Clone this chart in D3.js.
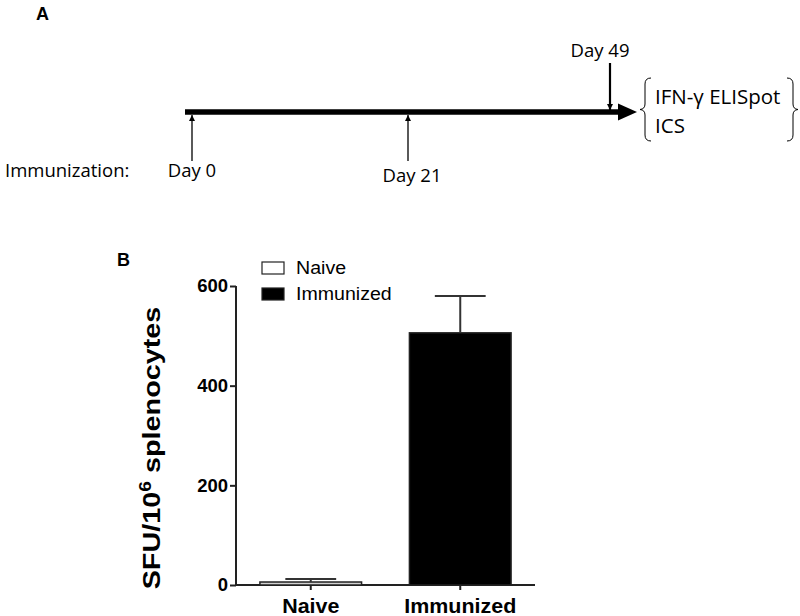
<!DOCTYPE html>
<head>
    <script type="text/javascript" src="https://d3js.org/d3.v7.min.js"></script>
    <style>
        body { margin: 0; background: #fff; }
        .sch text { font-family: "Open Sans", sans-serif; font-size: 18.5px; fill: #000; }
        .bar text { font-family: "Liberation Sans", Arial, sans-serif; fill: #000; }
        .panel { font-family: "Liberation Sans", Arial, sans-serif; font-weight: bold; font-size: 18px; }
    </style>
</head>
<body>
<svg class="chart" width="800" height="616"></svg>

<script>
    // panel A - schedule
    var days = [0, 21, 49];
    var dayLabels = ["Day 0", "Day 21", "Day 49"];
    var readouts = ["IFN-\u03b3 ELISpot", "ICS"];

    // panel B - ELISpot
    var groups = ["Naive", "Immunized"];
    var means = [6, 506];
    var errs = [6, 74];
    var fills = ["#d0d0d0", "#000"];
    var yTicks = [0, 200, 400, 600];

    var svg = d3.select(".chart");

    svg.append("defs").append("marker")
        .attr("id", "head")
        .attr("viewBox", "0 0 10 10")
        .attr("refX", 10).attr("refY", 5)
        .attr("markerWidth", 6).attr("markerHeight", 7)
        .attr("markerUnits", "userSpaceOnUse")
        .attr("orient", "auto")
        .append("path").attr("d", "M0,0L10,5L0,10z");

    svg.append("text").attr("class", "panel").attr("x", 36).attr("y", 20).text("A");
    svg.append("text").attr("class", "panel").attr("x", 117).attr("y", 266).text("B");

    var sch = svg.append("g").attr("class", "sch");
    var xd = d3.scaleLinear().domain(days).range([192, 408, 610]);
    var lineY = 112;
    var labelDx = [0, 4, -10];

    sch.append("line")
        .attr("x1", 185).attr("x2", 620)
        .attr("y1", lineY).attr("y2", lineY)
        .attr("stroke", "#000").attr("stroke-width", 5.5);
    sch.append("path")
        .attr("d", "M618," + (lineY - 8.5) + "L637," + lineY + "L618," + (lineY + 8.5) + "z")
        .attr("fill", "#000");

    // injections, arrow up
    days.slice(0, 2).forEach(function(d, i) {
        sch.append("line")
            .attr("x1", xd(d)).attr("x2", xd(d))
            .attr("y1", 161).attr("y2", 115)
            .attr("stroke", "#000").attr("stroke-width", 1.3)
            .attr("marker-end", "url(#head)");
        sch.append("text")
            .attr("x", xd(d) + labelDx[i]).attr("y", i == 0 ? 177 : 182)
            .attr("text-anchor", "middle")
            .text(dayLabels[i]);
    });

    // readout day, arrow down
    sch.append("line")
        .attr("x1", xd(49)).attr("x2", xd(49))
        .attr("y1", 63).attr("y2", 110)
        .attr("stroke", "#000").attr("stroke-width", 2.2)
        .attr("marker-end", "url(#head)");
    sch.append("text")
        .attr("x", xd(49) + labelDx[2]).attr("y", 57)
        .attr("text-anchor", "middle")
        .text(dayLabels[2]);

    sch.append("text").attr("x", 5).attr("y", 177).text("Immunization:");

    // braces
    sch.append("path")
        .attr("d", "M651,78 Q645,78 645,84 L645,104 Q645,109 640,109.5 Q645,110 645,115 L645,135 Q645,141 651,141")
        .attr("fill", "none").attr("stroke", "#000").attr("stroke-width", 1);
    sch.append("path")
        .attr("d", "M787,78 Q793,78 793,84 L793,104 Q793,109 798,109.5 Q793,110 793,115 L793,135 Q793,141 787,141")
        .attr("fill", "none").attr("stroke", "#000").attr("stroke-width", 1);
    sch.selectAll(".ro").data(readouts).enter().append("text")
        .attr("x", 655)
        .attr("y", function(d, i) { return 104 + i * 29; })
        .style("font-size", "20.5px")
        .text(function(d) { return d; });

    // bar chart
    var bar = svg.append("g").attr("class", "bar");
    var y = d3.scaleLinear().domain([0, 600]).range([585, 286]);
    var x = d3.scaleBand().domain(groups).range([236, 535]).paddingInner(0.32).paddingOuter(0.16);

    var yAxis = bar.append("g")
        .attr("transform", "translate(236,0)")
        .call(d3.axisLeft(y).tickValues(yTicks).tickSize(6).tickPadding(2));
    var xAxis = bar.append("g")
        .attr("transform", "translate(0,585)")
        .call(d3.axisBottom(x).tickSize(5).tickPadding(5));

    [yAxis, xAxis].forEach(function(ax) {
        ax.select(".domain").attr("stroke", "#222").attr("stroke-width", 2);
        ax.selectAll(".tick line").attr("stroke", "#222").attr("stroke-width", 2);
        ax.selectAll("text").attr("font-family", "Liberation Sans, Arial, sans-serif")
            .attr("font-weight", "bold").attr("fill", "#000");
    });
    yAxis.select(".domain").attr("d", "M0," + y(600) + "V" + y(0));
    xAxis.select(".domain").attr("d", "M236,0H535");
    yAxis.selectAll("text").attr("font-size", 18.5);
    xAxis.selectAll("text").attr("font-size", 19.5).attr("dy", "0.9em")
        .attr("transform", "scale(1.1,1)");

    bar.selectAll(".b").data(groups).enter().append("rect")
        .attr("x", function(d) { return x(d); })
        .attr("width", x.bandwidth())
        .attr("y", function(d, i) { return y(means[i]); })
        .attr("height", function(d, i) { return y(0) - y(means[i]); })
        .attr("fill", function(d, i) { return fills[i]; })
        .attr("stroke", "#222").attr("stroke-width", 1.5);

    // error bars (upper only)
    groups.forEach(function(g, i) {
        var cx = x(g) + x.bandwidth() / 2, w = x.bandwidth() / 4;
        bar.append("line").attr("x1", cx).attr("x2", cx)
            .attr("y1", y(means[i])).attr("y2", y(means[i] + errs[i]))
            .attr("stroke", "#333").attr("stroke-width", 2);
        bar.append("line").attr("x1", cx - w).attr("x2", cx + w)
            .attr("y1", y(means[i] + errs[i])).attr("y2", y(means[i] + errs[i]))
            .attr("stroke", "#333").attr("stroke-width", 2);
    });

    // legend
    var leg = bar.selectAll(".leg").data(groups).enter().append("g")
        .attr("transform", function(d, i) { return "translate(262," + (262 + i * 26) + ")"; });
    leg.append("rect").attr("width", 22).attr("height", 12)
        .attr("fill", function(d, i) { return i == 0 ? "#fff" : "#000"; })
        .attr("stroke", "#222").attr("stroke-width", 1.2);
    leg.append("text").attr("x", 34).attr("y", 6).attr("dy", "0.36em")
        .attr("font-size", 17.5)
        .attr("transform", "translate(34,0) scale(1.12,1) translate(-34,0)")
        .text(function(d) { return d; });

    // y label
    var yl = bar.append("text")
        .attr("transform", "translate(160,448) rotate(-90) scale(1.2,1)")
        .attr("text-anchor", "middle")
        .attr("font-size", 24).attr("font-weight", "bold");
    yl.append("tspan").text("SFU/10");
    yl.append("tspan").attr("baseline-shift", "super").attr("font-size", 16).text("6");
    yl.append("tspan").text(" splenocytes");
</script>
</body>
